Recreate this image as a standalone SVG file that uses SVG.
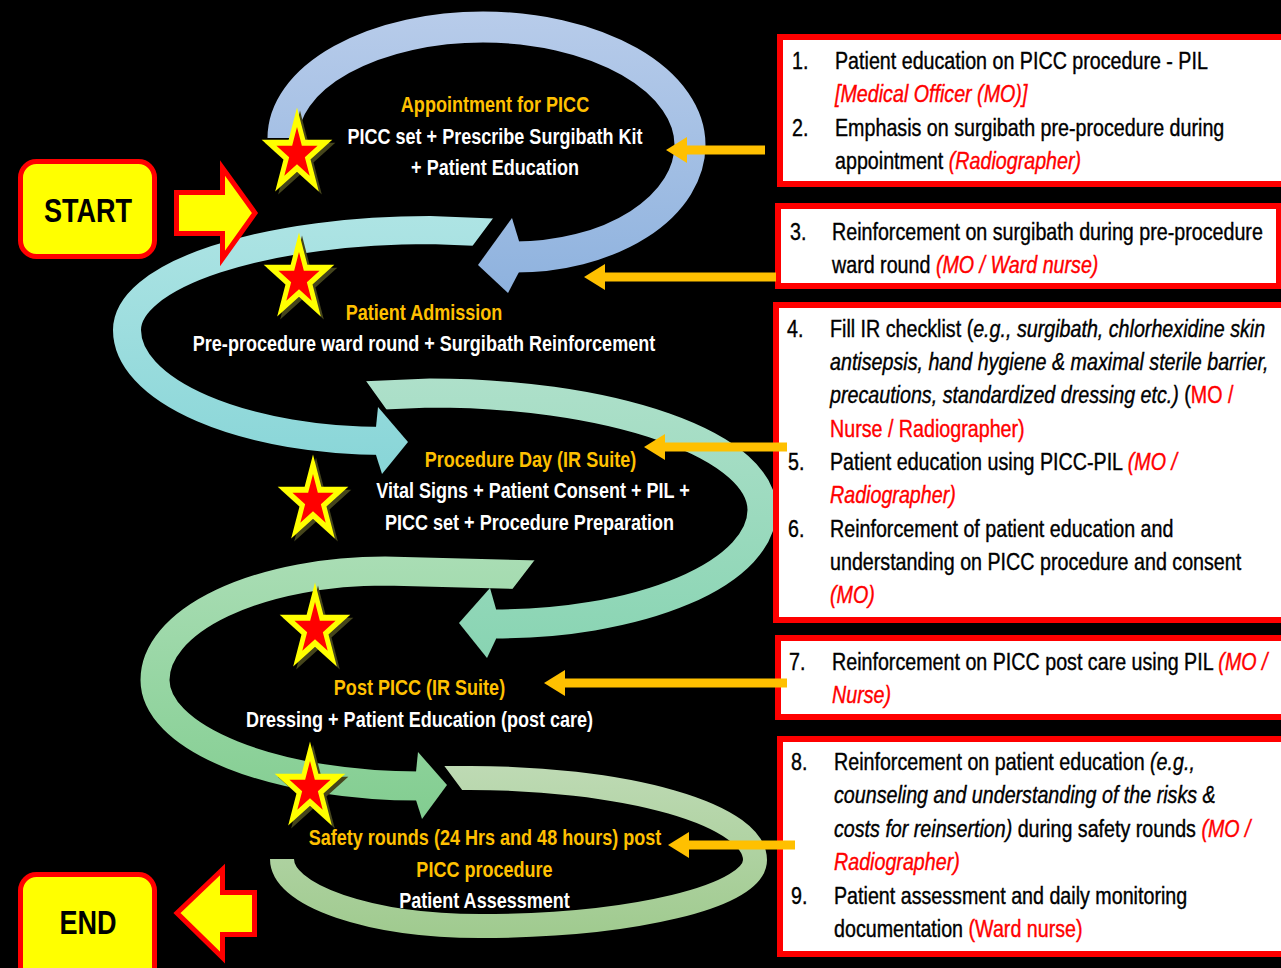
<svg xmlns="http://www.w3.org/2000/svg" width="1281" height="968" viewBox="0 0 1281 968">
<defs>
<style>
text{font-family:'Liberation Sans',Arial,sans-serif}
.lt{font-size:22px;font-weight:bold;text-anchor:middle}
.or{fill:#FFC000}
.wh{fill:#FFFFFF}
.bt{font-size:24px;fill:#000000;stroke:#000000;stroke-width:0.4}
.rd{fill:#FF0000;stroke:#FF0000}
.it{font-style:italic}
.box{fill:#FFFFFF;stroke:#FF0000;stroke-width:6}
.rib{fill:none}
.oa{fill:none;stroke:#FFC000;stroke-width:9;marker-end:url(#oh)}
.term{fill:#FFFF00;stroke:#FF0000;stroke-width:5;stroke-linejoin:miter}
.tt{font-size:33px;font-weight:bold;fill:#000000;text-anchor:middle}
</style>
<linearGradient id="g1" gradientUnits="userSpaceOnUse" x1="0" y1="10" x2="0" y2="295"><stop offset="0" stop-color="#B8CCEA"/><stop offset="1" stop-color="#8EB2DE"/></linearGradient>
<linearGradient id="g2" gradientUnits="userSpaceOnUse" x1="0" y1="215" x2="0" y2="460"><stop offset="0" stop-color="#AEE4E4"/><stop offset="1" stop-color="#8AD6D8"/></linearGradient>
<linearGradient id="g3" gradientUnits="userSpaceOnUse" x1="0" y1="377" x2="0" y2="660"><stop offset="0" stop-color="#AEE0CA"/><stop offset="1" stop-color="#88D4B2"/></linearGradient>
<linearGradient id="g4" gradientUnits="userSpaceOnUse" x1="0" y1="558" x2="0" y2="820"><stop offset="0" stop-color="#A9DDB4"/><stop offset="1" stop-color="#82CD90"/></linearGradient>
<linearGradient id="g5" gradientUnits="userSpaceOnUse" x1="0" y1="765" x2="0" y2="940"><stop offset="0" stop-color="#BEDAB4"/><stop offset="1" stop-color="#9FCA8E"/></linearGradient>
<marker id="oh" markerUnits="userSpaceOnUse" viewBox="0 0 21 26" markerWidth="21" markerHeight="26" refX="6" refY="13" orient="auto"><path d="M0,0 L21,13 L0,26 z" fill="#FFC000"/></marker>
<polygon id="starpts" points="0,-27 6.06,-8.34 25.68,-8.34 9.81,3.19 15.87,21.84 0,10.31 -15.87,21.84 -9.81,3.19 -25.68,-8.34 -6.06,-8.34"/>
<g id="star">
<use href="#starpts" transform="translate(3,3) scale(0.8,1)" fill="#45451C" stroke="#45451C" stroke-width="12" stroke-miterlimit="4"/>
<use href="#starpts" transform="scale(0.8,1)" fill="#FFFF00" stroke="#FFFF00" stroke-width="12" stroke-miterlimit="4"/>
<use href="#starpts" transform="scale(0.8,1)" fill="#FF0000"/>
</g>
<clipPath id="c2"><polygon points="0,0 600,0 600,205 503,205 462,260 600,260 600,968 0,968"/></clipPath>
<clipPath id="c3"><polygon points="351,360 1281,360 1281,700 394,700 394,420"/></clipPath>
<clipPath id="c4"><polygon points="0,540 550,540 504,600 504,968 0,968"/></clipPath>
<clipPath id="c5"><polygon points="431,748 1281,748 1281,968 0,968 0,810 477,810"/></clipPath>
</defs>
<rect width="1281" height="968" fill="#000000"/>

<g id="flow-connectors">
  <g id="loop5" clip-path="url(#c5)">
    <path class="rib" stroke="url(#g5)" stroke-width="24" d="M440,778 L470,778 A285,82 0 0 1 755,860 A275,66 0 0 1 480,926 A198,67 0 0 1 282,859"/>
  </g>
  <g id="loop4">
    <path class="rib" clip-path="url(#c4)" stroke="url(#g4)" stroke-width="29" d="M540,575 L385,571 A230,109 0 0 0 155,680 A265,106 0 0 0 420,786"/>
    <polygon fill="url(#g4)" points="418,752 447,785 422,819 416,800 416,772"/>
  </g>
  <g id="loop3">
    <path class="rib" clip-path="url(#c3)" stroke="url(#g3)" stroke-width="29" d="M360,396 L430,393 A332,117 0 0 1 762,510 A267,114 0 0 1 494,624"/>
    <polygon fill="url(#g3)" points="490,588 459,623 487,658 496,639 496,609"/>
  </g>
  <g id="loop2">
    <path class="rib" clip-path="url(#c2)" stroke="url(#g2)" stroke-width="28" d="M505,233 L430,230 A303,100 0 0 0 127,330 A258,111 0 0 0 385,441"/>
    <polygon fill="url(#g2)" points="378,407 408,442 382,474 376,455 376,427"/>
  </g>
  <g id="loop1">
    <path class="rib" stroke="url(#g1)" stroke-width="31" d="M283,138 A200,111 0 0 1 483,27 A207,118 0 0 1 690,145 A175,112 0 0 1 515,257"/>
    <polygon fill="url(#g1)" points="512,218 478,265 508,293 519,272 519,241"/>
  </g>
</g>

<g id="stage-appointment">
  <text class="lt or" transform="translate(495,112) scale(0.82,1)">Appointment for PICC</text>
  <text class="lt wh" transform="translate(495,144) scale(0.82,1)">PICC set + Prescribe Surgibath Kit</text>
  <text class="lt wh" transform="translate(495,175) scale(0.82,1)">+ Patient Education</text>
  <use href="#star" x="297" y="154"/>
</g>
<g id="stage-admission">
  <text class="lt or" transform="translate(424,320) scale(0.82,1)">Patient Admission</text>
  <text class="lt wh" transform="translate(424,351) scale(0.82,1)">Pre-procedure ward round + Surgibath Reinforcement</text>
  <use href="#star" x="299" y="279"/>
</g>
<g id="stage-procedure">
  <text class="lt or" transform="translate(530.5,467) scale(0.82,1)">Procedure Day (IR Suite)</text>
  <text class="lt wh" transform="translate(533,498) scale(0.82,1)">Vital Signs + Patient Consent + PIL +</text>
  <text class="lt wh" transform="translate(529.5,530) scale(0.82,1)">PICC set + Procedure Preparation</text>
  <use href="#star" x="313" y="501"/>
</g>
<g id="stage-post">
  <text class="lt or" transform="translate(419.5,695) scale(0.82,1)">Post PICC (IR Suite)</text>
  <text class="lt wh" transform="translate(419.5,727) scale(0.82,1)">Dressing + Patient Education (post care)</text>
  <use href="#star" x="315" y="629"/>
</g>
<g id="stage-safety">
  <text class="lt or" transform="translate(485,845) scale(0.82,1)">Safety rounds (24 Hrs and 48 hours) post</text>
  <text class="lt or" transform="translate(484.5,877) scale(0.82,1)">PICC procedure</text>
  <text class="lt wh" transform="translate(484.5,908) scale(0.82,1)">Patient Assessment</text>
  <use href="#star" x="310" y="788"/>
</g>

<g id="start">
  <rect class="term" x="20.5" y="161.5" width="134" height="95" rx="16"/>
  <text class="tt" transform="translate(88,222) scale(0.82,1)">START</text>
</g>
<g id="end">
  <rect class="term" x="20.5" y="874.5" width="134" height="115" rx="16"/>
  <text class="tt" transform="translate(88,934) scale(0.82,1)">END</text>
</g>

<g id="note-1-2">
  <rect class="box" x="780" y="37" width="520" height="147"/>
  <text class="bt" transform="translate(792,69) scale(0.82,1)">1.</text>
  <text class="bt" transform="translate(835,69) scale(0.82,1)">Patient education on PICC procedure - PIL</text>
  <text class="bt rd it" transform="translate(835,102) scale(0.82,1)">[Medical Officer (MO)]</text>
  <text class="bt" transform="translate(792,136) scale(0.82,1)">2.</text>
  <text class="bt" transform="translate(835,136) scale(0.82,1)">Emphasis on surgibath pre-procedure during</text>
  <text class="bt" transform="translate(835,169) scale(0.82,1)">appointment <tspan class="rd it">(Radiographer)</tspan></text>
</g>
<g id="note-3">
  <rect class="box" x="778" y="206" width="501" height="80"/>
  <text class="bt" transform="translate(790,240) scale(0.82,1)">3.</text>
  <text class="bt" transform="translate(832,240) scale(0.82,1)">Reinforcement on surgibath during pre-procedure</text>
  <text class="bt" transform="translate(832,273) scale(0.82,1)">ward round <tspan class="rd it">(MO / Ward nurse)</tspan></text>
</g>
<g id="note-4-6">
  <rect class="box" x="776" y="305" width="520" height="315"/>
  <text class="bt" transform="translate(787,337) scale(0.82,1)">4.</text>
  <text class="bt" transform="translate(830,337) scale(0.82,1)">Fill IR checklist (<tspan class="it">e.g., surgibath, chlorhexidine skin</tspan></text>
  <text class="bt it" transform="translate(830,370) scale(0.82,1)">antisepsis, hand hygiene &amp; maximal sterile barrier,</text>
  <text class="bt" transform="translate(830,403) scale(0.82,1)"><tspan class="it">precautions, standardized dressing etc.)</tspan> (<tspan class="rd">MO /</tspan></text>
  <text class="bt rd" transform="translate(830,437) scale(0.82,1)">Nurse / Radiographer)</text>
  <text class="bt" transform="translate(788,470) scale(0.82,1)">5.</text>
  <text class="bt" transform="translate(830,470) scale(0.82,1)">Patient education using PICC-PIL <tspan class="rd it">(MO /</tspan></text>
  <text class="bt rd it" transform="translate(830,503) scale(0.82,1)">Radiographer)</text>
  <text class="bt" transform="translate(788,537) scale(0.82,1)">6.</text>
  <text class="bt" transform="translate(830,537) scale(0.82,1)">Reinforcement of patient education and</text>
  <text class="bt" transform="translate(830,570) scale(0.82,1)">understanding on PICC procedure and consent</text>
  <text class="bt rd it" transform="translate(830,603) scale(0.82,1)">(MO)</text>
</g>
<g id="note-7">
  <rect class="box" x="778" y="638" width="520" height="79"/>
  <text class="bt" transform="translate(789,670) scale(0.82,1)">7.</text>
  <text class="bt" transform="translate(832,670) scale(0.82,1)">Reinforcement on PICC post care using PIL <tspan class="rd it">(MO /</tspan></text>
  <text class="bt rd it" transform="translate(832,703) scale(0.82,1)">Nurse)</text>
</g>
<g id="note-8-9">
  <rect class="box" x="780" y="739" width="520" height="215"/>
  <text class="bt" transform="translate(791,770) scale(0.82,1)">8.</text>
  <text class="bt" transform="translate(834,770) scale(0.82,1)">Reinforcement on patient education <tspan class="it">(e.g.,</tspan></text>
  <text class="bt it" transform="translate(834,803) scale(0.82,1)">counseling and understanding of the risks &amp;</text>
  <text class="bt" transform="translate(834,837) scale(0.82,1)"><tspan class="it">costs for reinsertion)</tspan> during safety rounds <tspan class="rd it">(MO /</tspan></text>
  <text class="bt rd it" transform="translate(834,870) scale(0.82,1)">Radiographer)</text>
  <text class="bt" transform="translate(791,904) scale(0.82,1)">9.</text>
  <text class="bt" transform="translate(834,904) scale(0.82,1)">Patient assessment and daily monitoring</text>
  <text class="bt" transform="translate(834,937) scale(0.82,1)">documentation <tspan class="rd">(Ward nurse)</tspan></text>
</g>

<g id="note-connectors">
  <path class="oa" d="M765,150 H681"/>
  <path class="oa" d="M776,277 H599"/>
  <path class="oa" d="M787,447 H659"/>
  <path class="oa" d="M787,683 H559"/>
  <path class="oa" d="M795,845 H683"/>
  <polygon class="term" points="176.5,192.5 222.5,192.5 222.5,168 255,213 222.5,258.5 222.5,233.5 176.5,233.5"/>
  <polygon class="term" points="177,913 222.5,869.5 222.5,892.5 254.5,892.5 254.5,934.5 222.5,934.5 222.5,957.5"/>
</g>
</svg>
